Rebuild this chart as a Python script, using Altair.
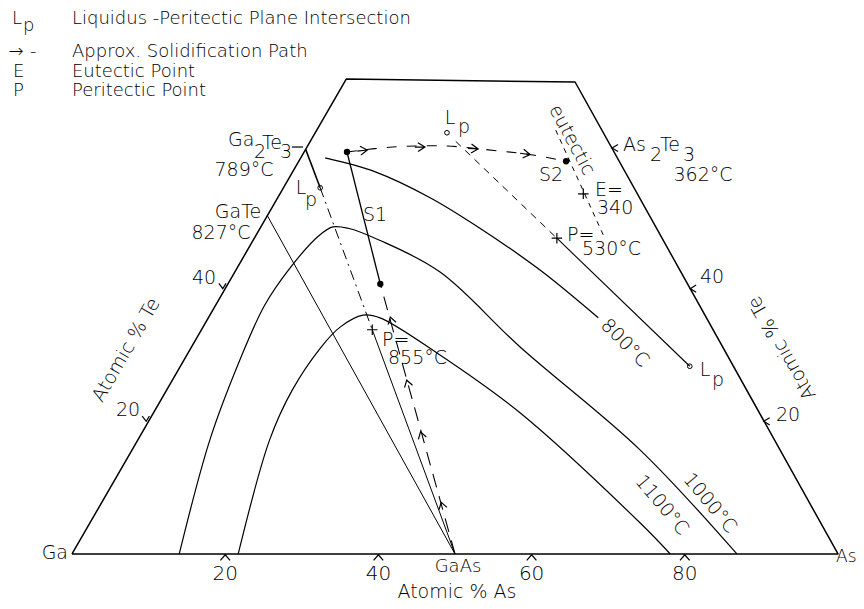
import math
import altair as alt
import pandas as pd

# ------------------------------------------------------------------
# Compositions in atomic %  (As, Te);  Ga = 100 - As - Te
# ------------------------------------------------------------------
TRIANGLE_AS = [0, 100, 30.1, 0, 0]
TRIANGLE_TE = [0, 0, 71.15, 71.6, 0]

ISO_1100_AS = [21.7, 17.2, 16.4, 16.9, 17.9, 20.0, 22.4, 32.5, 47.9, 71.8, 78.1]
ISO_1100_TE = [0.0, 17.2, 24.7, 31.05, 34.2, 36.0, 35.6, 30.3, 21.25, 4.7, 0.0]

ISO_1000_AS = [14.0, 9.4, 7.3, 6.4, 6.9, 8.2, 9.4, 11.5, 16.5, 26.8, 42.9, 66.3, 86.8]
ISO_1000_TE = [0.0, 17.2, 29.2, 37.5, 43.1, 47.9, 49.3, 49.1, 47.3, 42.5, 31.2, 15.7, 0.0]

ISO_800_AS = [3.2, 10.8, 19.9, 28.7, 39.7, 50.9]
ISO_800_TE = [59.7, 57.6, 53.7, 49.1, 42.8, 35.6]

GATE_GAAS_AS = [0, 50]
GATE_GAAS_TE = [51, 0]
P855_GAAS_AS = [22.3, 50]
P855_GAAS_TE = [33.8, 0]
GA2TE3_TIE_AS = [0, 4.8]
GA2TE3_TIE_TE = [61, 55.2]
S1_AS = [5.6, 19.9]
S1_TE = [60.6, 40.7]
P530_LP_AS = [39.5, 66.5]
P530_LP_TE = [47.6, 28.3]

DASHDOT_AS = [4.8, 22.3]
DASHDOT_TE = [55.2, 33.8]
PATH_UP_AS = [50, 19.9]
PATH_UP_TE = [0, 40.7]
PATH_ACROSS_AS = [5.6, 11.2, 18.2, 22.7, 30.1, 34.9]
PATH_ACROSS_TE = [60.6, 61.35, 61.5, 61.05, 60.15, 59.2]
LP_TO_P530_AS = [19.0, 39.5]
LP_TO_P530_TE = [62.2, 47.6]
EUTECTIC_AS = [31.2, 45.3]
EUTECTIC_TE = [63.9, 48.1]

LP_AS = [4.8, 17.2, 66.5]
LP_TE = [55.2, 63.5, 28.3]
DOT_AS = [5.6, 19.9, 34.9]
DOT_TE = [60.6, 40.7, 59.2]
CROSS_AS = [22.3, 39.6, 39.5]
CROSS_TE = [33.8, 54.3, 47.6]

UP_ARROW_AS = [23.7, 30.6, 36.3, 44.3]
UP_ARROW_TE = [35.7, 26.2, 18.4, 7.8]
UP_ARROW_DIR = [344, 344, 344, 344]
RIGHT_ARROW_AS = [8.1, 15.4, 22.5, 29.7]
RIGHT_ARROW_TE = [60.9, 61.35, 61.05, 60.2]
RIGHT_ARROW_DIR = [354, 359, 4, 8]

BOTTOM_TICKS = [20, 40, 60, 80]          # atomic % As on the Ga-As edge
LEFT_TICKS_TE = [20, 40]                 # atomic % Te on the Ga-Te edge
RIGHT_TICKS_AS = [80.3, 60.7, 39.9]      # As-Te edge ticks (incl. As2Te3)
RIGHT_TICKS_TE = [20, 40, 61.2]

# annotation texts: (text, x along Ga-As edge in %, height in same units, angle, align, size)
LABELS = [
    ("L", -7.83, 69.84, 0, "left", 18),
    ("p", -6.4, 68.9, 0, "left", 18),
    ("Liquidus -Peritectic Plane Intersection", 0.0, 69.84, 0, "left", 18),
    ("→", -8.3, 65.54, 0, "left", 18),
    ("-", -5.48, 65.54, 0, "left", 18),
    ("Approx. Solidification Path", 0.0, 65.54, 0, "left", 18),
    ("E", -7.7, 62.93, 0, "left", 18),
    ("Eutectic Point", 0.0, 62.93, 0, "left", 18),
    ("P", -7.7, 60.44, 0, "left", 18),
    ("Peritectic Point", 0.0, 60.44, 0, "left", 18),
    ("Ga", -0.52, 0.13, 0, "right", 19),
    ("As", 99.74, -0.39, 0, "left", 17),
    ("GaAs", 50.39, -1.70, 0, "center", 18),
    ("Atomic % As", 50.26, -4.92, 0, "center", 19),
    ("20", 20, -2.61, 0, "center", 20),
    ("40", 40, -2.61, 0, "center", 20),
    ("60", 60, -2.61, 0, "center", 20),
    ("80", 80, -2.61, 0, "center", 20),
    ("Atomic % Te", 7.05, 26.63, 300, "center", 19),
    ("20", 7.31, 18.8, 0, "center", 19),
    ("40", 17.23, 36.03, 0, "center", 19),
    ("Atomic % Te", 92.69, 26.9, 240, "center", 19),
    ("40", 83.55, 36.16, 0, "center", 19),
    ("20", 93.47, 18.15, 0, "center", 19),
    ("Ga", 20.37, 54.05, 0, "left", 19),
    ("2", 23.76, 52.48, 0, "left", 19),
    ("Te", 24.8, 53.66, 0, "left", 19),
    ("3", 27.15, 52.48, 0, "left", 19),
    ("789°C", 22.45, 50.13, 0, "center", 19),
    ("GaTe", 21.67, 44.65, 0, "center", 19),
    ("827°C", 19.45, 41.91, 0, "center", 19),
    ("L", 29.9, 47.78, 0, "center", 19),
    ("p", 31.2, 46.2, 0, "center", 19),
    ("S1", 39.56, 44.26, 0, "center", 19),
    ("L", 49.35, 56.92, 0, "center", 19),
    ("p", 51.18, 55.74, 0, "center", 19),
    ("S2", 62.53, 49.48, 0, "center", 19),
    ("eutectic", 65.28, 54.05, 62, "center", 19),
    ("E=", 68.28, 47.52, 0, "left", 19),
    ("340", 68.54, 45.17, 0, "left", 19),
    ("P=", 64.62, 41.65, 0, "left", 19),
    ("530°C", 66.58, 39.82, 0, "left", 19),
    ("As", 71.93, 53.39, 0, "left", 19),
    ("2", 75.46, 52.09, 0, "left", 19),
    ("Te", 76.76, 53.39, 0, "left", 19),
    ("3", 79.76, 52.09, 0, "left", 19),
    ("362°C", 82.38, 49.48, 0, "center", 19),
    ("L", 82.64, 24.02, 0, "center", 19),
    ("p", 84.33, 22.72, 0, "center", 19),
    ("P=", 40.47, 27.94, 0, "left", 19),
    ("855°C", 41.25, 25.59, 0, "left", 19),
    ("800°C", 72.19, 27.55, 45, "center", 19),
    ("1000°C", 83.29, 6.66, 50, "center", 19),
    ("1100°C", 77.03, 6.4, 50, "center", 19),
]

GA2TE3_DASH_X = [28.72, 30.16]
GA2TE3_DASH_Y = [53.13, 53.13]

# ------------------------------------------------------------------
S3 = math.sqrt(3) / 2
FONT = "DejaVu Sans"
XMIN, XMAX = -8.355, 102.35
YMIN, YMAX = -6.14, 71.28

XENC = alt.X("x:Q", scale=alt.Scale(domain=[XMIN, XMAX], nice=False, zero=False), axis=None)
YENC = alt.Y("y:Q", scale=alt.Scale(domain=[YMIN, YMAX], nice=False, zero=False), axis=None)


def tern(as_list, te_list, extra=None):
    rows = []
    for i, (a, t) in enumerate(zip(as_list, te_list)):
        rows.append({"i": i, "x": a + t / 2.0, "y": t * S3,
                     "a": extra[i] if extra is not None else 0})
    return pd.DataFrame(rows)


def line(as_list, te_list, width=1.2, dash=None, interp="linear"):
    kw = dict(color="black", strokeWidth=width, interpolate=interp, strokeCap="butt",
              strokeJoin="round")
    if dash:
        kw["strokeDash"] = dash
    return alt.Chart(tern(as_list, te_list)).mark_line(**kw).encode(
        x=XENC, y=YENC, order="i:Q")


def points(df, shape, size, filled=False, sw=1.2):
    return alt.Chart(df).mark_point(shape=shape, size=size, filled=filled, color="black",
                                    strokeWidth=sw, opacity=1).encode(
        x=XENC, y=YENC, angle=alt.Angle("a:Q", scale=None))


layers = []
layers.append(line(TRIANGLE_AS, TRIANGLE_TE, 1.5))
layers.append(line(ISO_1100_AS, ISO_1100_TE, 1.2, interp="catmull-rom"))
layers.append(line(ISO_1000_AS, ISO_1000_TE, 1.2, interp="catmull-rom"))
layers.append(line(ISO_800_AS, ISO_800_TE, 1.3, interp="catmull-rom"))
layers.append(line(GATE_GAAS_AS, GATE_GAAS_TE, 1.0))
layers.append(line(P855_GAAS_AS, P855_GAAS_TE, 1.0))
layers.append(line(GA2TE3_TIE_AS, GA2TE3_TIE_TE, 1.6))
layers.append(line(S1_AS, S1_TE, 1.3))
layers.append(line(P530_LP_AS, P530_LP_TE, 1.1))
layers.append(line(DASHDOT_AS, DASHDOT_TE, 1.0, dash=[10, 5, 2, 5]))
layers.append(line(PATH_UP_AS, PATH_UP_TE, 1.1, dash=[14, 9]))
layers.append(line(PATH_ACROSS_AS, PATH_ACROSS_TE, 1.1, dash=[10, 10], interp="catmull-rom"))
layers.append(line(LP_TO_P530_AS, LP_TO_P530_TE, 1.0, dash=[7, 6]))
layers.append(line(EUTECTIC_AS, EUTECTIC_TE, 1.0, dash=[5, 5]))

layers.append(alt.Chart(pd.DataFrame({"x": GA2TE3_DASH_X, "y": GA2TE3_DASH_Y, "i": [0, 1]}))
              .mark_line(color="black", strokeWidth=1.2).encode(x=XENC, y=YENC, order="i:Q"))

# markers
layers.append(points(tern(LP_AS, LP_TE), "circle", 22, filled=False, sw=1.0))
layers.append(points(tern(DOT_AS, DOT_TE), "circle", 40, filled=True))
layers.append(points(tern(CROSS_AS, CROSS_TE), "M-1,0L1,0M0,-1L0,1", 110, sw=1.2))
layers.append(points(tern(UP_ARROW_AS, UP_ARROW_TE, UP_ARROW_DIR), "M-0.7,1.1L0,0L0.7,1.1", 140))
layers.append(points(tern(RIGHT_ARROW_AS, RIGHT_ARROW_TE, RIGHT_ARROW_DIR),
                     "M-1.1,-0.7L0,0L-1.1,0.7M-1.6,0L0,0", 160))

# edge ticks
layers.append(points(tern(BOTTOM_TICKS, [0] * len(BOTTOM_TICKS)), "M-1.2,1.6L0,0.2L1.2,1.6", 64))
layers.append(points(tern([0] * len(LEFT_TICKS_TE), LEFT_TICKS_TE), "M-1.6,-1.3L-0.6,0L0.2,-1.3", 64))
layers.append(points(tern(RIGHT_TICKS_AS, RIGHT_TICKS_TE), "M1.5,-0.9L0,0L1.5,0.9", 64))

# texts
lab = pd.DataFrame(LABELS, columns=["t", "x", "y", "a", "al", "s"])
for al in ["left", "center", "right"]:
    sub = lab[lab["al"] == al]
    layers.append(alt.Chart(sub).mark_text(align=al, baseline="middle", font=FONT,
                                           fontWeight=200, color="black").encode(
        x=XENC, y=YENC, text="t:N",
        angle=alt.Angle("a:Q", scale=None), size=alt.Size("s:Q", scale=None)))

chart = alt.layer(*layers).properties(
    width=848, height=593,
    autosize=alt.AutoSizeParams(type="none"),
    padding=0,
    background="white",
).configure_view(stroke=None)

chart.save("out.html", embed_options={"renderer": "svg", "actions": False})
